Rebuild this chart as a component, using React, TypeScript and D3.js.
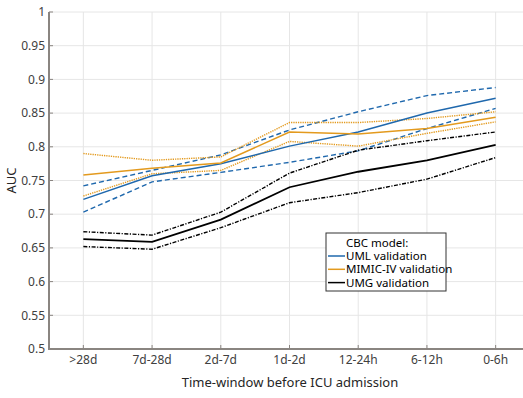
import React from 'react';
import { scaleLinear, scalePoint, line, range } from 'd3';

const width = 523;
const height = 398;

const windows = ['>28d', '7d-28d', '2d-7d', '1d-2d', '12-24h', '6-12h', '0-6h'];
const yTicks = [0.5, 0.55, 0.6, 0.65, 0.7, 0.75, 0.8, 0.85, 0.9, 0.95, 1];

// UML validation
const umlAuc = [0.722, 0.757, 0.775, 0.801, 0.822, 0.85, 0.872];
const umlLow = [0.703, 0.748, 0.762, 0.777, 0.794, 0.827, 0.857];
const umlHigh = [0.742, 0.765, 0.788, 0.825, 0.852, 0.876, 0.888];

// MIMIC-IV validation
const mimicAuc = [0.758, 0.768, 0.776, 0.822, 0.819, 0.827, 0.844];
const mimicLow = [0.727, 0.76, 0.765, 0.808, 0.801, 0.82, 0.837];
const mimicHigh = [0.79, 0.78, 0.785, 0.836, 0.836, 0.842, 0.852];

// UMG validation
const umgAuc = [0.663, 0.659, 0.692, 0.74, 0.763, 0.78, 0.803];
const umgLow = [0.652, 0.648, 0.68, 0.717, 0.732, 0.752, 0.784];
const umgHigh = [0.674, 0.669, 0.703, 0.761, 0.795, 0.809, 0.822];

const legendNames = ['UML validation', 'MIMIC-IV validation', 'UMG validation'];

const blue = '#1f68ad';
const orange = '#e39a1e';
const black = '#000000';

const margin = { left: 49, top: 12, right: 530, bottom: 349 };

const App = () => {
  const x = scalePoint<string>().domain(windows).range([margin.left, margin.right]).padding(0.5);
  const y = scaleLinear().domain([0.5, 1]).range([margin.bottom, margin.top]);

  const path = (vals: number[]) =>
    line<number>()
      .x((_, i) => x(windows[i]) as number)
      .y(d => y(d))(vals) as string;

  const series = [
    { vals: umlLow, color: blue, dash: '5 3', w: 1.4 },
    { vals: umlHigh, color: blue, dash: '5 3', w: 1.4 },
    { vals: mimicLow, color: orange, dash: '1.3 1', w: 1.4 },
    { vals: mimicHigh, color: orange, dash: '1.3 1', w: 1.4 },
    { vals: umgLow, color: black, dash: '4 1.5 1.2 1.5', w: 1.4 },
    { vals: umgHigh, color: black, dash: '4 1.5 1.2 1.5', w: 1.4 },
    { vals: umlAuc, color: blue, dash: null, w: 1.5 },
    { vals: mimicAuc, color: orange, dash: null, w: 1.5 },
    { vals: umgAuc, color: black, dash: null, w: 1.8 },
  ];

  const legendColors = [blue, orange, black];
  const lg = { x: 326, y: 233, w: 120, h: 58 };

  return (
    <svg
      width={width}
      height={height}
      style={{ position: 'absolute', left: 0, top: 0, background: '#fff' }}
      fontFamily="'Noto Sans', sans-serif"
    >
      {/* grid */}
      {yTicks.map(t => (
        <line key={'gy' + t} x1={margin.left} x2={margin.right} y1={y(t)} y2={y(t)} stroke="#e6e6e6" strokeWidth={1} />
      ))}
      {windows.map(w => (
        <line key={'gx' + w} x1={x(w)} x2={x(w)} y1={margin.top} y2={margin.bottom} stroke="#e6e6e6" strokeWidth={1} />
      ))}

      {/* lines */}
      {series.map((s, i) => (
        <path
          key={i}
          d={path(s.vals)}
          fill="none"
          stroke={s.color}
          strokeWidth={s.w}
          strokeDasharray={s.dash ?? undefined}
        />
      ))}

      {/* axes */}
      <line x1={margin.left} x2={margin.left} y1={margin.top} y2={margin.bottom + 1} stroke="#8a8581" strokeWidth={2} />
      <line x1={margin.left - 1} x2={margin.right} y1={margin.bottom} y2={margin.bottom} stroke="#8a8581" strokeWidth={2} />
      {yTicks.map(t => (
        <g key={'ty' + t}>
          <line x1={margin.left} x2={margin.left + 4} y1={y(t)} y2={y(t)} stroke="#8a8581" strokeWidth={1} />
          <text x={45} y={y(t)} dy="0.35em" textAnchor="end" fontSize={12} fill="#404040">
            {t}
          </text>
        </g>
      ))}
      {windows.map(w => (
        <g key={'tx' + w}>
          <line x1={x(w)} x2={x(w)} y1={margin.bottom} y2={margin.bottom - 4} stroke="#8a8581" strokeWidth={1} />
          <text x={x(w)} y={364} textAnchor="middle" fontSize={12} fill="#404040">
            {w}
          </text>
        </g>
      ))}
      <text x={290} y={387} textAnchor="middle" fontSize={13} fill="#262626">
        Time-window before ICU admission
      </text>
      <text transform={`translate(16,${y(0.75)}) rotate(-90)`} textAnchor="middle" fontSize={13} fill="#262626">
        AUC
      </text>

      {/* legend */}
      <rect x={lg.x} y={lg.y} width={lg.w} height={lg.h} fill="#fff" stroke="#333" strokeWidth={1} />
      <text x={346} y={243} dy="0.35em" fontSize={11.5} fill="#000">
        CBC model:
      </text>
      {range(3).map(i => (
        <g key={'lg' + i}>
          <line x1={328} x2={345} y1={256 + i * 13.3} y2={256 + i * 13.3} stroke={legendColors[i]} strokeWidth={1.5} />
          <text x={346} y={256 + i * 13.3} dy="0.35em" fontSize={11.5} fill="#000">
            {legendNames[i]}
          </text>
        </g>
      ))}
    </svg>
  );
};

export default App;
